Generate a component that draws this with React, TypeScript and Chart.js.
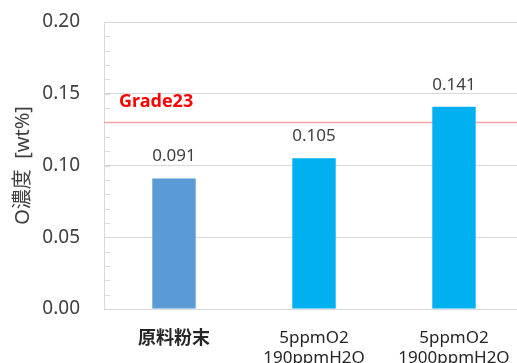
import React, { useEffect, useRef } from "react";
import { Chart, registerables } from "chart.js";

Chart.register(...registerables);

// Oxygen concentration per sample condition
const categories: (string | string[])[] = [
  "原料粉末",
  ["5ppmO2", "190ppmH2O"],
  ["5ppmO2", "1900ppmH2O"],
];
const oxygenValues = [0.091, 0.105, 0.141];
const barColors = ["#5B9BD5", "#00B0F0", "#00B0F0"];
const gradeLimit = 0.13;
const gradeLabel = "Grade23";
const yTitle = "O濃度  [wt%]";
const yMin = 0;
const yMax = 0.2;
const yStep = 0.05;
const minorStep = 0.01;

const FONT = '"Noto Sans", "Noto Sans CJK JP", sans-serif';

const overlayPlugin = {
  id: "overlay",
  beforeDatasetsDraw(chart: any) {
    const { ctx, chartArea, scales } = chart;
    const y = scales.y;
    ctx.save();
    // minor tick marks on the inner side of the value axis
    ctx.strokeStyle = "#d9d9d9";
    ctx.lineWidth = 1;
    const n = Math.round((yMax - yMin) / minorStep);
    for (let i = 1; i < n; i++) {
      const v = yMin + i * minorStep;
      const py = Math.round(y.getPixelForValue(v)) + 0.5;
      ctx.beginPath();
      ctx.moveTo(chartArea.left, py);
      ctx.lineTo(chartArea.left + 6, py);
      ctx.stroke();
    }
    // reference limit line
    const gy = y.getPixelForValue(gradeLimit);
    ctx.strokeStyle = "#F4A3A3";
    ctx.lineWidth = 1.5;
    ctx.beginPath();
    ctx.moveTo(chartArea.left, gy);
    ctx.lineTo(chartArea.right, gy);
    ctx.stroke();
    ctx.fillStyle = "#FF0000";
    ctx.font = `bold 18px ${FONT}`;
    ctx.textAlign = "left";
    ctx.textBaseline = "middle";
    ctx.fillText(gradeLabel, chartArea.left + 15, gy - 21);
    ctx.restore();
  },
  afterDatasetsDraw(chart: any) {
    const { ctx } = chart;
    const meta = chart.getDatasetMeta(0);
    ctx.save();
    ctx.fillStyle = "#404040";
    ctx.font = `17px ${FONT}`;
    ctx.textAlign = "center";
    ctx.textBaseline = "middle";
    meta.data.forEach((bar: any, i: number) => {
      ctx.fillText(oxygenValues[i].toFixed(3), bar.x, bar.y - 22);
    });
    ctx.restore();
  },
};

export default function App() {
  const canvasRef = useRef<HTMLCanvasElement | null>(null);

  useEffect(() => {
    const canvas = canvasRef.current;
    if (!canvas) return;
    const chart = new Chart(canvas, {
      type: "bar",
      data: {
        labels: categories,
        datasets: [
          {
            data: oxygenValues,
            backgroundColor: barColors,
            barPercentage: 0.31,
            categoryPercentage: 1,
          },
        ],
      },
      options: {
        responsive: false,
        animation: false,
        devicePixelRatio: 1,
        layout: { padding: { top: 22, right: 16, left: 0, bottom: 0 } },
        plugins: {
          legend: { display: false },
          tooltip: { enabled: false },
        },
        scales: {
          x: {
            grid: { display: false, drawTicks: false },
            border: { display: true, color: "#d9d9d9" },
            afterFit(scale: any) {
              scale.height = 54;
            },
            ticks: {
              padding: 19,
              color: "#262626",
              font: (c: any) =>
                c.index === 0
                  ? { family: FONT, size: 18, weight: "bold", lineHeight: 1.2 }
                  : { family: FONT, size: 17, lineHeight: 1.2 },
              maxRotation: 0,
            },
          },
          y: {
            min: yMin,
            max: yMax,
            grid: { color: "#d9d9d9", drawTicks: false },
            border: { display: true, color: "#d9d9d9" },
            afterFit(scale: any) {
              scale.width = 104;
              scale.paddingTop = 10;
              scale.paddingBottom = 10;
            },
            ticks: {
              stepSize: yStep,
              padding: 24,
              color: "#404040",
              font: { family: FONT, size: 19 },
              callback: (v: any) => Number(v).toFixed(2),
            },
            title: {
              display: true,
              text: yTitle,
              color: "#404040",
              font: { family: FONT, size: 20 },
              padding: { top: 11, bottom: 0 },
            },
          },
        },
      },
      plugins: [overlayPlugin],
    });
    return () => chart.destroy();
  }, []);

  return (
    <div
      style={{
        position: "fixed",
        left: 0,
        top: 0,
        width: 517,
        height: 363,
        overflow: "hidden",
        background: "#fff",
      }}
    >
      <canvas ref={canvasRef} width={540} height={363} style={{ display: "block" }} />
    </div>
  );
}
